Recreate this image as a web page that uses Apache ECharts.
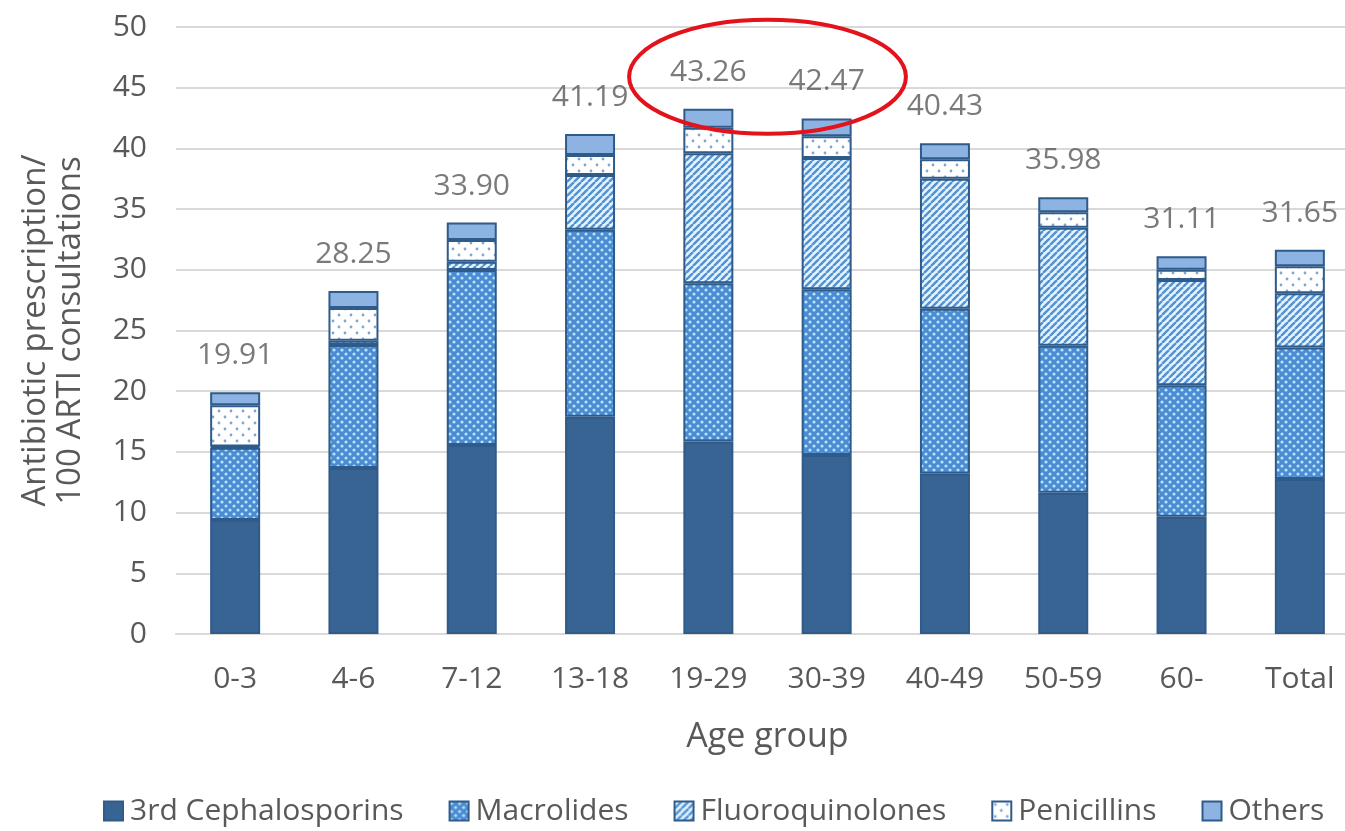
<!DOCTYPE html>
<html>
<head>
<meta charset="utf-8">
<title>Antibiotic prescriptions by age group</title>
<script src="https://cdn.jsdelivr.net/npm/echarts@6/dist/echarts.min.js"></script>
<style>
  html, body { margin: 0; padding: 0; background: #fff; }
  #chart { width: 1345px; height: 831px; }
</style>
</head>
<body>
<div id="chart"></div>
<script>
// Age groups on the x axis
const categories = ['0-3', '4-6', '7-12', '13-18', '19-29', '30-39', '40-49', '50-59', '60-', 'Total'];

// Prescriptions per 100 ARTI consultations, by antibiotic class
const cephalosporins3rd = [9.39, 13.67, 15.57, 17.90, 15.85, 14.75, 13.20, 11.64, 9.66, 12.77];
const macrolides        = [5.96, 10.13, 14.41, 15.40, 13.05, 13.65, 13.60, 12.11, 10.84, 10.83];
const fluoroquinolones  = [0.10, 0.35, 0.69, 4.50, 10.70, 10.80, 10.70, 9.72, 8.66, 4.46];
const penicillins       = [3.40, 2.70, 1.78, 1.65, 2.10, 1.80, 1.60, 1.28, 0.84, 2.24];
const others            = [1.06, 1.40, 1.45, 1.74, 1.56, 1.47, 1.33, 1.23, 1.11, 1.35];

// Totals printed above each bar
const totals = [19.91, 28.25, 33.90, 41.19, 43.26, 42.47, 40.43, 35.98, 31.11, 31.65];

// y axis ticks
const yTicks = [0, 5, 10, 15, 20, 25, 30, 35, 40, 45, 50];

// --- fill patterns -------------------------------------------------------
function makeTile(w, h, draw) {
  const c = document.createElement('canvas');
  c.width = w; c.height = h;
  draw(c.getContext('2d'), w, h);
  return { image: c, repeat: 'repeat' };
}

const dottedBlue = makeTile(8, 8, (g, w, h) => {
  g.fillStyle = '#4b8bd2';
  g.fillRect(0, 0, w, h);
  g.fillStyle = '#b6e2fb';
  [[2, 2], [6, 6]].forEach(([x, y]) => {
    g.beginPath(); g.arc(x, y, 1.6, 0, Math.PI * 2); g.fill();
  });
});

const diagonalStripes = makeTile(7, 7, (g, w, h) => {
  g.fillStyle = '#e4f3fd';
  g.fillRect(0, 0, w, h);
  g.strokeStyle = '#5191d4';
  g.lineWidth = 2.4;
  g.beginPath();
  for (let k = -1; k <= 1; k++) {
    g.moveTo(k * w, h);
    g.lineTo(k * w + w, 0);
  }
  g.stroke();
});

const sparseDots = makeTile(12, 12, (g, w, h) => {
  g.fillStyle = '#ffffff';
  g.fillRect(0, 0, w, h);
  g.fillStyle = '#7ea6d0';
  [[3, 3], [9, 9]].forEach(([x, y]) => {
    g.beginPath(); g.arc(x, y, 1.4, 0, Math.PI * 2); g.fill();
  });
});

const borderColor = '#2f5b8a';
const textColor = '#595959';
const fontFamily = '"Open Sans", "Noto Sans", sans-serif';

function stackSeries(name, data, color) {
  return {
    name: name,
    type: 'bar',
    stack: 'all',
    barWidth: 50,
    data: data,
    itemStyle: { color: color, borderColor: borderColor, borderWidth: 2 },
    emphasis: { disabled: true }
  };
}

const chart = echarts.init(document.getElementById('chart'), null, { renderer: 'canvas' });

const option = {
  animation: false,
  backgroundColor: '#ffffff',
  textStyle: { fontFamily: fontFamily, color: textColor },
  grid: { left: 176, top: 27, width: 1183, height: 607, containLabel: false, outerBoundsMode: 'none' },
  legend: {
    data: ['3rd Cephalosporins', 'Macrolides', 'Fluoroquinolones', 'Penicillins', 'Others'],
    bottom: 0,
    left: 98,
    icon: 'rect',
    itemWidth: 19,
    itemHeight: 19,
    itemGap: 45,
    textStyle: { fontSize: 30, color: textColor, fontFamily: fontFamily, padding: [0, 0, 0, 2] }
  },
  xAxis: {
    type: 'category',
    data: categories,
    name: 'Age group',
    nameLocation: 'middle',
    nameGap: 86,
    nameTextStyle: { fontSize: 34, color: textColor },
    axisLine: { show: true, lineStyle: { color: '#d9d9d9', width: 2 } },
    axisTick: { show: false },
    axisLabel: { fontSize: 30, color: textColor, margin: 30 }
  },
  yAxis: {
    type: 'value',
    min: yTicks[0],
    max: yTicks[yTicks.length - 1],
    interval: yTicks[1] - yTicks[0],
    name: 'Antibiotic prescription/\n100 ARTI consultations',
    nameLocation: 'middle',
    nameRotate: 90,
    nameGap: 88,
    nameTextStyle: { fontSize: 33, color: textColor, lineHeight: 35 },
    axisLine: { show: false },
    axisTick: { show: false },
    axisLabel: { fontSize: 30, color: textColor, margin: 29 },
    splitLine: { lineStyle: { color: '#d9d9d9', width: 2 } }
  },
  series: [
    stackSeries('3rd Cephalosporins', cephalosporins3rd, '#386494'),
    stackSeries('Macrolides', macrolides, dottedBlue),
    stackSeries('Fluoroquinolones', fluoroquinolones, diagonalStripes),
    stackSeries('Penicillins', penicillins, sparseDots),
    stackSeries('Others', others, '#8db3e2'),
    {
      name: 'Total',
      type: 'scatter',
      data: totals,
      symbol: 'circle',
      symbolSize: 1,
      itemStyle: { color: 'rgba(0,0,0,0)' },
      silent: true,
      label: {
        show: true,
        position: 'top',
        distance: 21,
        fontSize: 30,
        color: textColor,
        formatter: p => p.value.toFixed(2)
      },
      z: 5
    }
  ]
};

chart.setOption(option);

// Highlight ring around the two peak age groups (19-29 and 30-39)
const left = chart.convertToPixel({ xAxisIndex: 0, yAxisIndex: 0 }, ['19-29', 0]);
const right = chart.convertToPixel({ xAxisIndex: 0, yAxisIndex: 0 }, ['30-39', 0]);
const band = right[0] - left[0];
const ringY = chart.convertToPixel({ yAxisIndex: 0 }, 45.9);
chart.setOption({
  graphic: [{
    type: 'ellipse',
    shape: { cx: (left[0] + right[0]) / 2, cy: ringY, rx: band * 1.17, ry: 57 },
    style: { fill: 'none', stroke: '#e3121b', lineWidth: 4 },
    z: 10
  }]
});
</script>
</body>
</html>
